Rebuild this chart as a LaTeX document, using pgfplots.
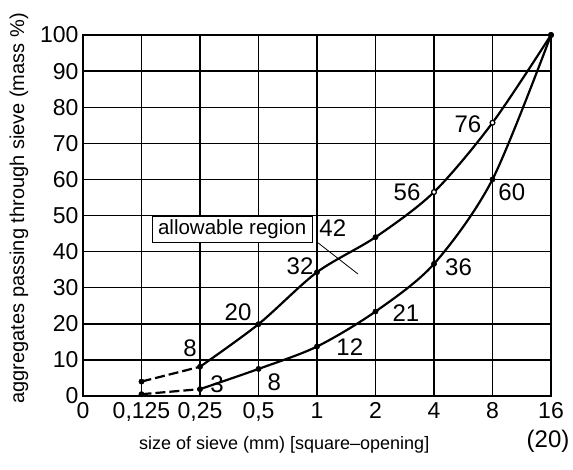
\documentclass[border=0pt]{standalone}
\usepackage{pgfplots}
\usepackage{pgfplotstable}
\pgfplotsset{compat=1.18}
\usepackage{fontspec}
\setmainfont{Liberation Sans}
\begin{document}
\begin{tikzpicture}
\pgfplotstableread{
x y
1 4
2 8.1
3 19.9
4 34.3
5 44
6 56.5
7 75.7
8 100
}\upperdata
\pgfplotstableread{
x y
1 0.5
2 1.9
3 7.5
4 13.7
5 23.4
6 36.6
7 60
8 100
}\lowerdata
\begin{axis}[
  scale only axis, width=468pt, height=361pt,
  xmin=0, xmax=8, ymin=0, ymax=100,
  clip=false,
  xtick={0,...,8},
  xticklabels={0,{0,125},{0,25},{0,5},1,2,4,8,16},
  ytick={0,10,...,100},
  grid=major,
  major grid style={black, line width=1.4pt},
  axis line style={line width=2.6pt},
  tick style={draw=none},
  ticklabel style={font=\fontsize{23}{25}\selectfont},
  xticklabel style={yshift=-3pt},
  yticklabel style={xshift=-1pt},
  /pgf/number format/assume math mode=true,
  xlabel={size of sieve (mm) [square–opening]},
  ylabel={aggregates passing through sieve (mass \%)},
  xlabel style={font=\fontsize{18}{20}\selectfont, at={(axis description cs:0.43,0)}, anchor=center, yshift=-49pt},
  ylabel style={font=\fontsize{20}{22}\selectfont, at={(axis description cs:-0.137,0.52)}, anchor=center},
]
% dashed first segments
\addplot[black, line width=2.2pt, dashed, dash pattern=on 10pt off 4pt, restrict x to domain=1:2] table[x=x,y=y] {\upperdata};
\addplot[black, line width=2.2pt, dashed, dash pattern=on 10pt off 4pt, restrict x to domain=1:2] table[x=x,y=y] {\lowerdata};
% solid curves
\addplot[black, line width=2.2pt, smooth, tension=0.5, restrict x to domain=2:8] table[x=x,y=y] {\upperdata};
\addplot[black, line width=2.2pt, smooth, tension=0.5, restrict x to domain=2:8] table[x=x,y=y] {\lowerdata};
% markers
\addplot[only marks, mark=*, mark size=2.7pt, black] table[x=x,y=y] {\upperdata};
\addplot[only marks, mark=*, mark size=2.7pt, black] table[x=x,y=y] {\lowerdata};
\addplot[only marks, mark=*, mark size=2.3pt, black, mark options={fill=white, line width=1.1pt}] coordinates {(6,56.5) (7,75.7)};
% value labels
\begin{scope}[every node/.style={font=\fontsize{24}{26}\selectfont, inner sep=0pt}]
\node at (axis cs:1.83,13.3) {8};
\node at (axis cs:2.65,23.3) {20};
\node at (axis cs:3.71,36) {32};
\node at (axis cs:4.27,46.5) {42};
\node at (axis cs:5.54,56.5) {56};
\node at (axis cs:6.58,75.3) {76};
\node at (axis cs:7.33,56.5) {60};
\node at (axis cs:6.42,35.7) {36};
\node at (axis cs:5.52,23) {21};
\node at (axis cs:4.56,13.6) {12};
\node at (axis cs:3.27,3.9) {8};
\node at (axis cs:2.29,3.3) {3};
\node at (axis cs:7.95,-12.5) {(20)};
\end{scope}
\draw[line width=0.8pt] (axis cs:4.02,42.4) -- (axis cs:4.70,33.8);
\node[draw, fill=white, line width=0.9pt, font=\fontsize{20.5}{22}\selectfont, inner xsep=6pt, minimum height=26pt, text height=14pt, text depth=4pt] at (axis cs:2.55,46) {allowable region};
\end{axis}
\path ([shift={(-83pt,-73pt)}]current axis.south west) rectangle ([shift={(22pt,35pt)}]current axis.north east);
\end{tikzpicture}
\end{document}
